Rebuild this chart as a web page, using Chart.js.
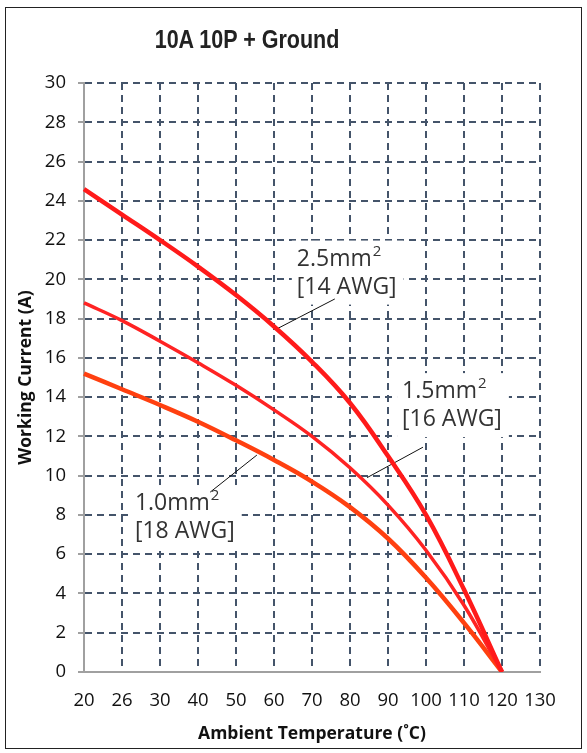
<!DOCTYPE html>
<html>
<head>
<meta charset="utf-8">
<script src="https://cdn.jsdelivr.net/npm/chart.js@4.4.1/dist/chart.umd.min.js"></script>
<style>
  body { margin: 0; background: #fff; }
  #wrap { position: relative; width: 587px; height: 753px; background: #fff; }
  #frame { position: absolute; left: 5px; top: 7px; width: 575px; height: 740px; border: 1.5px solid #222; pointer-events: none; }
  #title { position: absolute; left: 127px; width: 240px; top: 25px; text-align: center;
           font: bold 25px "Liberation Sans", Arial, sans-serif; color: #222; transform: scaleX(0.86); }
</style>
</head>
<body>
<div id="wrap">
  <canvas id="chart" width="587" height="753"></canvas>
  <div id="frame"></div>
  <div id="title">10A 10P + Ground</div>
</div>
<script>
// temperatures on the x axis (as printed on the chart)
const tempLabels = ['20', '26', '30', '40', '50', '60', '70', '80', '90', '100', '110', '120', '130'];

// working current (A) per wire size, read at each x tick
const current25 = [24.6, 23.3, 22.0, 20.65, 19.2, 17.6, 15.8, 13.7, 11.0, 8.0, 4.2, 0, null];
const current15 = [18.8, 17.9, 16.85, 15.75, 14.6, 13.35, 12.0, 10.4, 8.5, 6.2, 3.4, 0, null];
const current10 = [15.2, 14.4, 13.6, 12.75, 11.8, 10.8, 9.7, 8.4, 6.8, 4.8, 2.5, 0, null];

const wireSizes = ['2.5mm', '1.5mm', '1.0mm'];
const wireAwg = ['[14 AWG]', '[16 AWG]', '[18 AWG]'];

// callout placement in axis units (x = tick index, y = amps)
const callouts = [
    { text: [5.6, 20.7], from: [5.1, 17.5], to: [6.6, 19.0] },
    { text: [8.37, 13.95], from: [7.45, 9.9], to: [8.92, 11.45] },
    { text: [1.34, 8.25], from: [4.55, 11.05], to: [3.32, 9.16] },
];

const calloutPlugin = {
    id: 'callouts',
    beforeDatasetsDraw(chart) {
        const { ctx, scales: { x, y } } = chart;
        ctx.save();
        callouts.forEach((c, i) => {
            const tx = x.getPixelForValue(c.text[0]);
            const ty = y.getPixelForValue(c.text[1]);
            ctx.font = '23px "Open Sans", sans-serif';
            const w1 = ctx.measureText(wireSizes[i]).width + 10;
            const w2 = ctx.measureText(wireAwg[i]).width;
            const w = Math.max(w1, w2);
            // white box hides the grid behind the text
            ctx.fillStyle = '#fff';
            ctx.fillRect(tx - 5, ty - 25, w + 12, 64);
            ctx.fillStyle = '#333';
            ctx.textBaseline = 'alphabetic';
            ctx.fillText(wireSizes[i], tx, ty);
            const mw = ctx.measureText(wireSizes[i]).width;
            ctx.fillText(wireAwg[i], tx, ty + 28);
            ctx.font = '15px "Open Sans", sans-serif';
            ctx.fillText('2', tx + mw + 1, ty - 10);
            // leader line
            ctx.strokeStyle = '#111';
            ctx.lineWidth = 1;
            ctx.beginPath();
            ctx.moveTo(x.getPixelForValue(c.from[0]), y.getPixelForValue(c.from[1]));
            ctx.lineTo(x.getPixelForValue(c.to[0]), y.getPixelForValue(c.to[1]));
            ctx.stroke();
        });
        ctx.restore();
    }
};

const gridColor = '#44546a';
const axisFont = { family: '"Open Sans", sans-serif', size: 18.5 };
const titleFont = { family: '"Open Sans", sans-serif', size: 17.5, weight: 'bold' };

new Chart(document.getElementById('chart'), {
    type: 'line',
    data: {
        labels: tempLabels,
        datasets: [
            { label: '2.5mm2', data: current25, borderColor: '#ff1a1a', borderWidth: 4.5 },
            { label: '1.5mm2', data: current15, borderColor: '#ff2323', borderWidth: 3.5 },
            { label: '1.0mm2', data: current10, borderColor: '#ff4010', borderWidth: 4.5 },
        ].map(d => Object.assign(d, { pointRadius: 0, fill: false, tension: 0.4 })),
    },
    options: {
        responsive: false,
        animation: false,
        layout: { padding: { top: 83, left: 5, right: 47, bottom: 0 } },
        plugins: { legend: { display: false }, tooltip: { enabled: false } },
        scales: {
            x: {
                type: 'category',
                offset: false,
                grid: { color: gridColor, lineWidth: 2, drawTicks: false },
                border: { display: true, color: '#a0a0a0', width: 2, dash: [7, 5] },
                ticks: { color: '#111', font: axisFont, padding: 18, maxRotation: 0, autoSkip: false },
                title: { display: true, text: 'Ambient Temperature (˚C)', color: '#111', font: titleFont, padding: { top: 4, bottom: 8 } },
                afterFit(scale) { scale.height = 81; },
            },
            y: {
                min: 0,
                max: 30,
                ticks: { stepSize: 2, color: '#111', font: axisFont, padding: 12 },
                grid: { color: gridColor, lineWidth: 2, tickColor: '#a0a0a0', tickLength: 6 },
                border: { display: true, color: '#a0a0a0', width: 2, dash: [7, 5] },
                title: { display: true, text: 'Working Current (A)', color: '#111', font: titleFont, padding: { top: 11, bottom: 0 } },
                afterFit(scale) { scale.width = 79; },
            },
        },
    },
    plugins: [calloutPlugin],
});
</script>
</body>
</html>
